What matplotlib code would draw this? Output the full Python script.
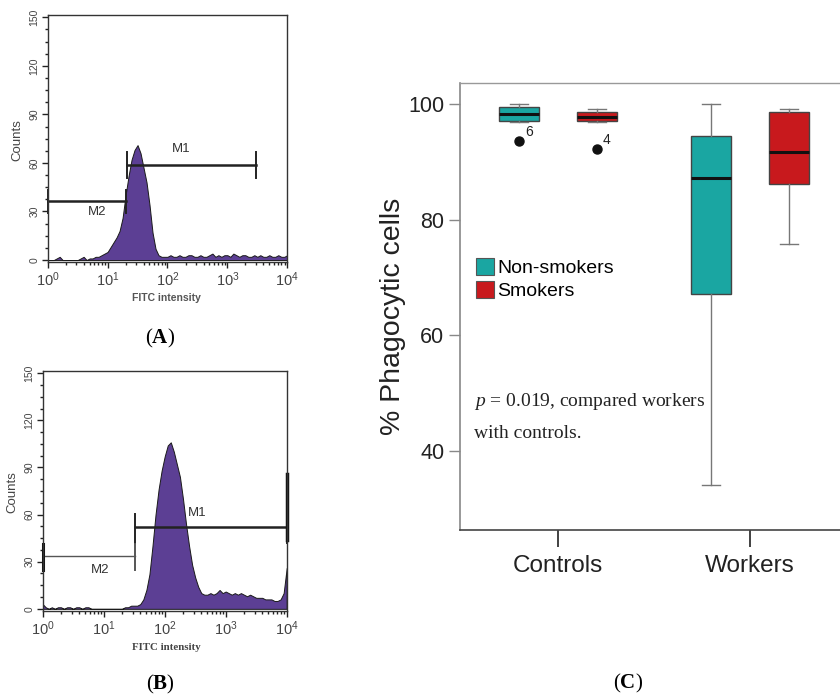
import numpy as np
import matplotlib
matplotlib.use("Agg")
import matplotlib.pyplot as plt
from matplotlib.ticker import MultipleLocator, LogLocator, NullFormatter
from matplotlib.patches import Patch

plt.rcParams['font.family'] = ['Liberation Sans', 'DejaVu Sans']
plt.rcParams['mathtext.fontset'] = 'custom'
plt.rcParams['mathtext.rm'] = 'Liberation Serif'
plt.rcParams['mathtext.it'] = 'Liberation Serif:italic'
plt.rcParams['mathtext.bf'] = 'Liberation Serif:bold'

# ---- flow cytometry histograms (counts per channel, 0.05 decade steps, 10^0..10^4)
decades = np.linspace(0, 4, 81)
counts_a = [0, 0, 0, 1, 2, 0, 0, 0, 0, 0,
            0, 1, 2, 0, 1, 1, 2, 2, 3, 4,
            5, 8, 11, 14, 18, 26, 40, 52, 62, 68,
            71, 66, 57, 48, 34, 17, 7, 3, 2, 2,
            2, 3, 2, 2, 3, 2, 2, 3, 3, 2,
            2, 3, 2, 2, 3, 4, 2, 3, 2, 3,
            3, 2, 4, 3, 2, 3, 3, 2, 2, 3,
            2, 3, 2, 2, 3, 2, 2, 3, 2, 2, 3]
counts_b = [3, 1, 0, 1, 0, 1, 1, 0, 1, 1,
            0, 1, 1, 0, 1, 1, 0, 0, 0, 0,
            0, 0, 0, 0, 0, 0, 0, 1, 1, 2,
            2, 2, 3, 6, 12, 22, 40, 60, 76, 88,
            97, 104, 106, 100, 92, 84, 70, 54, 40, 28,
            20, 14, 10, 9, 9, 10, 9, 10, 12, 10,
            11, 10, 9, 10, 9, 10, 9, 8, 9, 8,
            7, 7, 7, 6, 6, 6, 5, 5, 6, 10, 26]

# gates: (start, end, level, bar_low, bar_high)
gates_a = {'M1': (21, 2960, 59, 50.6, 66.7), 'M2': (1, 20.5, 36.5, 29, 43)}
gate_labels_a = {'M1': (170, 68.5), 'M2': (6.8, 29.5)}
gates_b = {'M1': (33, 10000, 52, 42, 60.6), 'M2': (1, 33, 33.5, 25, 41)}
gate_labels_b = {'M1': (340, 61), 'M2': (8.8, 25)}

# ---- box plot (% phagocytic cells)
groups = ['Controls', 'Workers']
series = ['Non-smokers', 'Smokers']
box_stats = {
    ('Controls', 'Non-smokers'): dict(whislo=96.9, q1=97.2, med=98.3, q3=99.6, whishi=100.0, fliers=[93.6]),
    ('Controls', 'Smokers'): dict(whislo=97.0, q1=97.1, med=97.8, q3=98.7, whishi=99.2, fliers=[92.3]),
    ('Workers', 'Non-smokers'): dict(whislo=34.1, q1=67.1, med=87.3, q3=94.5, whishi=100.0, fliers=[]),
    ('Workers', 'Smokers'): dict(whislo=75.8, q1=86.2, med=91.7, q3=98.6, whishi=99.2, fliers=[]),
}
outlier_ids = {('Controls', 'Non-smokers'): '6', ('Controls', 'Smokers'): '4'}
colors = {'Non-smokers': '#1aa6a2', 'Smokers': '#c8191d'}
purple = '#5c3f94'

fig = plt.figure(figsize=(8.4, 6.97), dpi=100)


def flow_panel(rect, counts, gates, gate_labels, thin_m2=False):
    ax = fig.add_axes(rect)
    x = 10 ** decades
    ax.fill_between(x, counts, 0, facecolor=purple, edgecolor='#1a1a1a', lw=0.7)
    ax.set_xscale('log')
    ax.set_xlim(1, 1e4)
    ax.set_ylim(-1.2, 151.4)
    ax.set_yticks([0, 30, 60, 90, 120, 150])
    ax.yaxis.set_minor_locator(MultipleLocator(7.5))
    ax.xaxis.set_major_locator(LogLocator(base=10, numticks=10))
    ax.xaxis.set_minor_locator(LogLocator(base=10, subs=np.arange(2, 10), numticks=10))
    ax.xaxis.set_minor_formatter(NullFormatter())
    ax.tick_params(which='major', direction='out', length=4, width=1, color='#222',
                   labelcolor='#444')
    ax.tick_params(which='minor', direction='out', length=2.5, width=1, color='#222')
    ax.tick_params(axis='x', labelsize=10.5, pad=2)
    ax.tick_params(axis='y', labelsize=7.5, pad=2)
    for lab in ax.get_yticklabels():
        lab.set_rotation(90)
        lab.set_va('center')
    for s in ax.spines.values():
        s.set_color('#333')
        s.set_linewidth(1)
    for name, (x0, x1, lev, lo, hi) in gates.items():
        lw = 1.0 if (thin_m2 and name == 'M2') else 1.8
        col = '#555' if (thin_m2 and name == 'M2') else '#222'
        ax.plot([x0, x1], [lev, lev], color=col, lw=lw, clip_on=False)
        ax.plot([x0, x0], [lo, hi], color=col, lw=1.4, clip_on=False)
        ax.plot([x1, x1], [lo, hi], color=col, lw=1.4, clip_on=False)
        tx, ty = gate_labels[name]
        ax.text(tx, ty, name, fontsize=9.5, color='#333', ha='center', va='center')
    return ax


axa = flow_panel([0.0568, 0.6241, 0.2852, 0.3544], counts_a, gates_a, gate_labels_a)
axb = flow_panel([0.0508, 0.1238, 0.2905, 0.3439], counts_b, gates_b, gate_labels_b, thin_m2=True)
# thick right-edge bar of M1 in B
axb.plot([1e4, 1e4], [44, 86], color='#111', lw=2.5, clip_on=False)
axb.plot([1, 1], [25, 41], color='#111', lw=2.2, clip_on=False)

fig.text(17 / 840, 1 - 140 / 697, 'Counts', rotation=90, fontsize=9.5, color='#444',
         ha='center', va='center')
fig.text(12 / 840, 1 - 492 / 697, 'Counts', rotation=90, fontsize=9.5, color='#444',
         ha='center', va='center')
fig.text(166 / 840, 1 - 298 / 697, 'FITC intensity', fontsize=7.5, fontweight='bold',
         color='#555', ha='center', va='center')
fig.text(166 / 840, 1 - 648 / 697, 'FITC intensity', fontsize=7.8, fontweight='bold',
         color='#444', ha='center', va='center', family='Liberation Serif')

fig.text(160 / 840, 1 - 338 / 697, r'($\mathbf{A}$)', fontsize=15, ha='center', va='center',
         family='Liberation Serif')
fig.text(160 / 840, 1 - 684 / 697, r'($\mathbf{B}$)', fontsize=15, ha='center', va='center',
         family='Liberation Serif')
fig.text(628 / 840, 1 - 683 / 697, r'($\mathbf{C}$)', fontsize=15, ha='center', va='center',
         family='Liberation Serif')

# ---- panel C
axc = fig.add_axes([460 / 840, 1 - 530 / 697, 390 / 840, 447 / 697])
offset = 0.203
for gi, g in enumerate(groups):
    for si, s in enumerate(series):
        pos = gi + (-offset if si == 0 else offset)
        st = dict(box_stats[(g, s)])
        axc.bxp([st], positions=[pos], widths=0.208, patch_artist=True, capwidths=0.095,
                boxprops=dict(facecolor=colors[s], edgecolor='#444', lw=1),
                medianprops=dict(color='#111', lw=2.2),
                whiskerprops=dict(color='#777', lw=1),
                capprops=dict(color='#777', lw=1),
                flierprops=dict(marker='o', markerfacecolor='#111', markeredgecolor='#111',
                                markersize=6.5))
        if (g, s) in outlier_ids:
            for fv in st['fliers']:
                axc.annotate(outlier_ids[(g, s)], (pos, fv), xytext=(7, 6.5),
                             textcoords='offset points', fontsize=10, color='#222',
                             ha='center', va='center')

axc.set_xlim(-0.51, 1.52)
axc.set_ylim(26.3, 103.7)
axc.set_yticks([40, 60, 80, 100])
axc.set_xticks([0, 1])
axc.set_xticklabels(groups)
axc.tick_params(axis='y', direction='out', length=8, width=1, color='#888', labelsize=15.5,
                pad=3.4, labelcolor='#222')
axc.tick_params(axis='x', direction='out', length=12, width=1.3, color='#333', labelsize=17.5,
                pad=6, labelcolor='#222')
axc.spines['right'].set_visible(False)
axc.spines['left'].set_color('#888')
axc.spines['left'].set_linewidth(1.2)
axc.spines['bottom'].set_color('#444')
axc.spines['bottom'].set_linewidth(1.2)
axc.spines['top'].set_color('#999')
axc.spines['top'].set_linewidth(1)

fig.text(393 / 840, 1 - 316 / 697, '% Phagocytic cells', rotation=90, fontsize=20.5,
         color='#222', ha='center', va='center')

handles = [Patch(facecolor=colors[s], edgecolor='#555', lw=0.8) for s in series]
axc.legend(handles, series, loc='upper left', bbox_to_anchor=(476 / 840, 1 - 258 / 697),
           bbox_transform=fig.transFigure, frameon=False, fontsize=14, handlelength=0.95,
           handleheight=0.95, handletextpad=0.15, labelspacing=0.2, borderpad=0,
           borderaxespad=0)

fig.text(474 / 840, 1 - 401 / 697, r'$p$ = 0.019, compared workers', fontsize=14,
         family='Liberation Serif', color='#222', ha='left', va='center')
fig.text(474 / 840, 1 - 434 / 697, 'with controls.', fontsize=14,
         family='Liberation Serif', color='#222', ha='left', va='center')

fig.savefig('out.png', dpi=100)
